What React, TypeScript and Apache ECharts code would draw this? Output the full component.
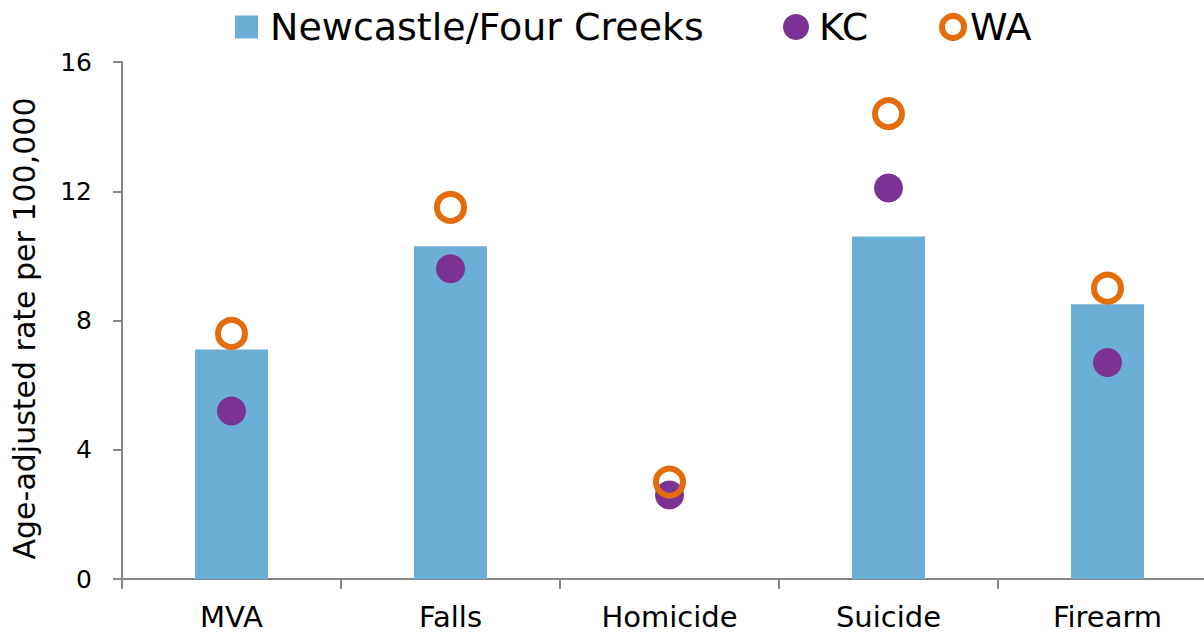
import React, { useEffect, useRef } from "react";
import * as echarts from "echarts";

const categories = ["MVA", "Falls", "Homicide", "Suicide", "Firearm"];
const newcastleValues: (number | null)[] = [7.1, 10.3, null, 10.6, 8.5];
const kcValues = [5.2, 9.6, 2.6, 12.1, 6.7];
const waValues = [7.6, 11.5, 3.0, 14.4, 9.0];
const yTicks = { min: 0, max: 16, interval: 4 };

const BAR_COLOR = "#6baed6";
const KC_COLOR = "#7b3294";
const WA_COLOR = "#e46c0a";
const AXIS_COLOR = "#888888";

export default function App() {
  const ref = useRef<HTMLDivElement>(null);
  useEffect(() => {
    if (!ref.current) return;
    const chart = echarts.init(ref.current, null, { renderer: "svg" });
    const legendText = (padLeft: number) => ({
      fontFamily: "DejaVu Sans",
      fontSize: 38,
      color: "#000",
      padding: [0, 0, 0, padLeft],
    });
    chart.setOption({
      animation: false,
      backgroundColor: "#fff",
      legend: [
        {
          data: [{ name: "Newcastle/Four Creeks", icon: "rect" }],
          left: 235,
          top: 8,
          padding: 0,
          itemWidth: 23,
          itemHeight: 23,
          textStyle: legendText(7),
          selectedMode: false,
        },
        {
          data: [{ name: "KC", icon: "circle" }],
          left: 783,
          top: 8,
          padding: 0,
          itemWidth: 26,
          itemHeight: 26,
          textStyle: legendText(5),
          selectedMode: false,
        },
        {
          data: [
            {
              name: "WA",
              icon: "circle",
              itemStyle: { color: "#fff", borderColor: WA_COLOR, borderWidth: 6 },
            },
          ],
          left: 939,
          top: 8,
          padding: 0,
          itemWidth: 22,
          itemHeight: 22,
          textStyle: legendText(1),
          selectedMode: false,
        },
      ],
      grid: { left: 122, right: -13, top: 62, bottom: 55, containLabel: false, outerBoundsMode: "none" },
      xAxis: {
        type: "category",
        data: categories,
        axisLine: { show: true, lineStyle: { color: AXIS_COLOR, width: 2 } },
        axisTick: { show: true, alignWithLabel: false, length: 10, lineStyle: { color: AXIS_COLOR, width: 2 } },
        axisLabel: {
          fontFamily: "DejaVu Sans",
          fontSize: 29,
          color: "#000",
          margin: 23,
        },
        splitLine: { show: false },
      },
      yAxis: {
        type: "value",
        min: yTicks.min,
        max: yTicks.max,
        interval: yTicks.interval,
        name: "Age-adjusted rate per 100,000",
        nameLocation: "middle",
        nameRotate: 90,
        nameGap: 83,
        nameTextStyle: { fontFamily: "DejaVu Sans", fontSize: 30, color: "#000", padding: [0, 16, 0, 0] },
        axisLine: { show: true, lineStyle: { color: AXIS_COLOR, width: 2 } },
        axisTick: { show: true, length: 9, lineStyle: { color: AXIS_COLOR, width: 2 } },
        axisLabel: { fontFamily: "DejaVu Sans", fontSize: 25, color: "#000", margin: 30 },
        splitLine: { show: false },
      },
      series: [
        {
          name: "Newcastle/Four Creeks",
          type: "bar",
          data: newcastleValues.map((v) => (v === null ? "-" : v)),
          barWidth: 73,
          itemStyle: { color: BAR_COLOR },
          z: 1,
        },
        {
          name: "KC",
          type: "scatter",
          data: kcValues,
          symbol: "circle",
          symbolSize: 29,
          itemStyle: { color: KC_COLOR, opacity: 1 },
          z: 2,
        },
        {
          name: "WA",
          type: "scatter",
          data: waValues,
          symbol: "circle",
          symbolSize: 27,
          itemStyle: { color: "transparent", borderColor: WA_COLOR, borderWidth: 6, opacity: 1 },
          z: 3,
        },
      ],
    });
    return () => chart.dispose();
  }, []);
  return (
    <div
      ref={ref}
      style={{ position: "fixed", left: 0, top: 0, width: 1204, height: 634 }}
    />
  );
}
